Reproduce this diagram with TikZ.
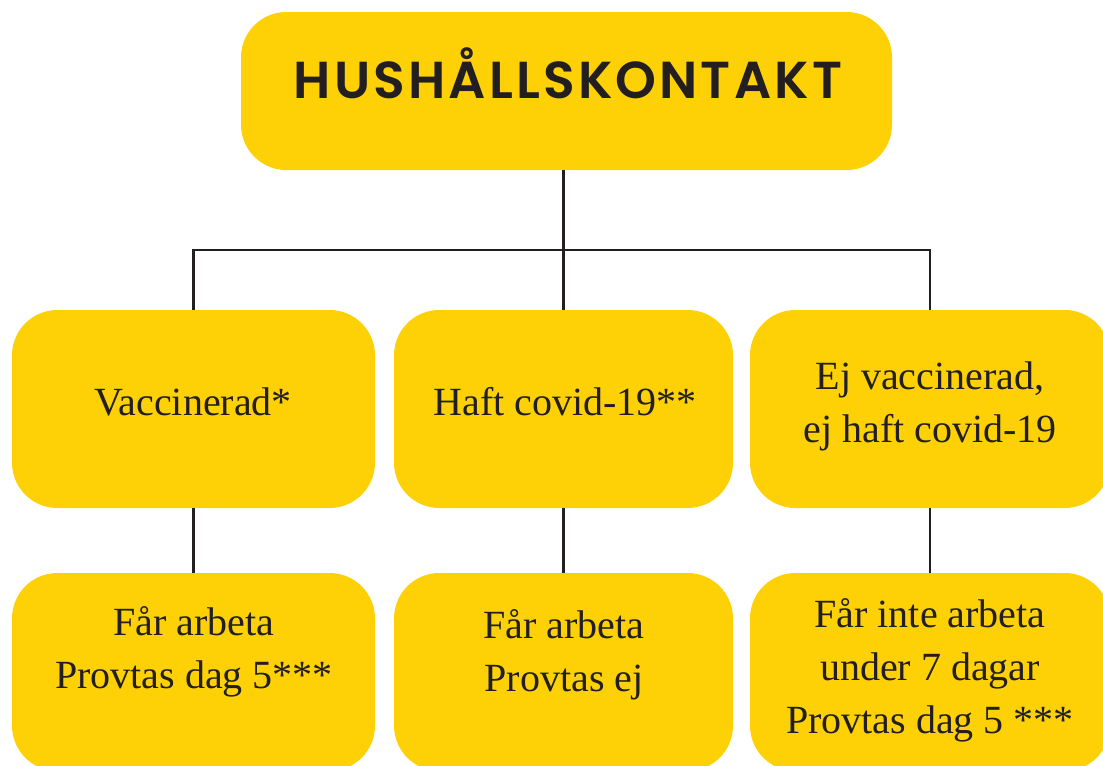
\documentclass[tikz,border=0pt]{standalone}
\usepackage{fontspec}
\setmainfont{Liberation Serif}
\newfontfamily\titlefont{Poppins SemiBold}[LetterSpace=6]
\definecolor{boxyellow}{HTML}{FDD106}
\definecolor{inkdark}{HTML}{231F20}
\tikzset{
  box/.style={rectangle, rounded corners=34pt, fill=boxyellow, draw=none, inner sep=0pt},
  midbox/.style={box, minimum height=148.5pt},
  conn/.style={draw=inkdark, line width=2.2pt},
  label/.style={inner sep=0pt, text=inkdark, font=\fontsize{30pt}{39.5pt}\selectfont, align=center},
  titlelabel/.style={inner sep=0pt, text=inkdark, font=\titlefont\fontsize{39pt}{45pt}\selectfont}
}
\begin{document}
\begin{tikzpicture}[x=0.75pt,y=-0.75pt]
\useasboundingbox (0,0) rectangle (1103,765);
\clip (0,0) rectangle (1103,765);
% boxes
\node[box, minimum width=488.25pt, minimum height=118.5pt] (top) at (566.5,91) {};
\node[midbox, minimum width=272.25pt] (ml) at (193.5,409) {};
\node[midbox, minimum width=254.25pt] (mm) at (563.5,409) {};
\node[midbox, minimum width=270pt] (mr) at (930,409) {};
\node[midbox, minimum width=272.25pt] (bl) at (193.5,672) {};
\node[midbox, minimum width=254.25pt] (bm) at (563.5,672) {};
\node[midbox, minimum width=270pt] (br) at (930,672) {};
% connectors
\coordinate (bar) at (564,250);
\draw[conn] (mm.north |- top.south) -- (mm.north);
\draw[conn] (ml.north) |- (bar) -| (mr.north);
\draw[conn] (ml.south) -- (bl.north);
\draw[conn] (mm.south) -- (bm.north);
\draw[conn] (mr.south) -- (br.north);
% texts (base anchor = baseline of the last line)
\node[titlelabel, anchor=base] (ttop) at (568,98) {HUSHÅLLSKONTAKT};
\node[label, anchor=base] (tml) at (193,415) {Vaccinerad*};
\node[label, anchor=base] (tmm) at (565,415) {Haft covid-19**};
\node[label, anchor=base] (tmr) at (930,442) {Ej vaccinerad,\\ej haft covid-19};
\node[label, anchor=base] (tbl) at (194,688) {Får arbeta\\Provtas dag 5***};
\node[label, anchor=base] (tbm) at (564,691) {Får arbeta\\Provtas ej};
\node[label, anchor=base] (tbr) at (930,733) {Får inte arbeta\\under 7 dagar\\Provtas dag 5 ***};
\end{tikzpicture}
\end{document}
